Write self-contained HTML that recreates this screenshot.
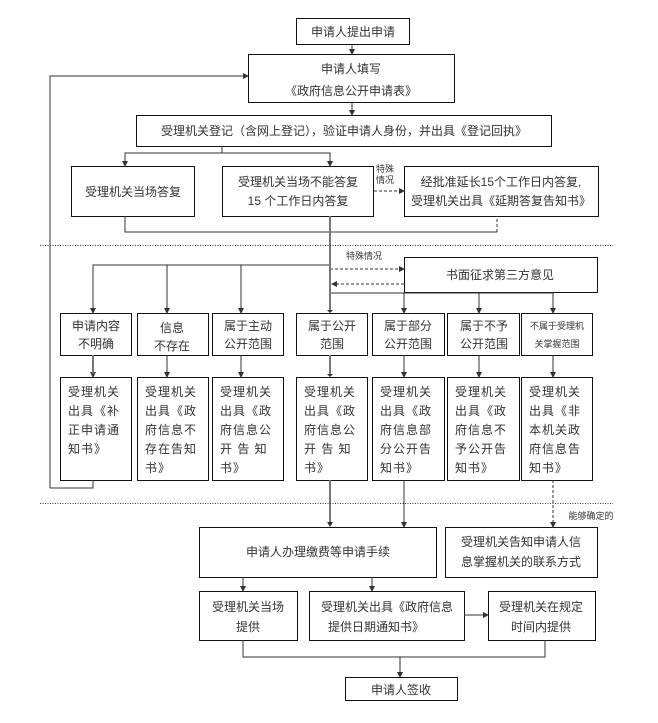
<!DOCTYPE html>
<html><head><meta charset="utf-8"><style>
body{margin:0;background:#fff}
svg{display:block}
text{font-family:"Liberation Sans","Noto Sans CJK SC",sans-serif;fill:#333;font-size:12px}
.s{font-size:9px}
</style></head><body>
<svg width="658" height="723" viewBox="0 0 658 723" xmlns="http://www.w3.org/2000/svg">
<defs><marker id="a" markerWidth="6" markerHeight="6" refX="5" refY="3" orient="auto"><path d="M0,0 L6,3 L0,6 z" fill="#333"/></marker></defs>
<g fill="none" stroke="#111" stroke-width="1">
<rect x="296.5" y="18.5" width="113" height="26"/>
<rect x="248.5" y="54.5" width="206" height="48"/>
<rect x="136.5" y="115.5" width="415" height="31"/>
<rect x="71.5" y="166.5" width="123" height="50"/>
<rect x="222.5" y="166.5" width="151" height="50"/>
<rect x="404.5" y="166.5" width="194" height="50"/>
<rect x="404.5" y="257.5" width="193" height="35"/>
<rect x="60.5" y="313.5" width="71" height="42"/><rect x="137.5" y="313.5" width="71" height="42"/><rect x="212.5" y="313.5" width="71" height="42"/><rect x="296.5" y="313.5" width="71" height="42"/><rect x="372.5" y="313.5" width="72" height="42"/><rect x="447.5" y="313.5" width="72" height="42"/><rect x="521.5" y="313.5" width="71" height="42"/>
<rect x="60.5" y="377.5" width="71" height="103"/><rect x="137.5" y="377.5" width="71" height="103"/><rect x="212.5" y="377.5" width="71" height="103"/><rect x="296.5" y="377.5" width="71" height="103"/><rect x="372.5" y="377.5" width="72" height="103"/><rect x="447.5" y="377.5" width="72" height="103"/><rect x="521.5" y="377.5" width="71" height="103"/>
<rect x="199.5" y="527.5" width="237" height="50"/>
<rect x="445.5" y="527.5" width="152" height="50"/>
<rect x="199.5" y="591.5" width="98" height="49"/>
<rect x="309.5" y="591.5" width="155" height="49"/>
<rect x="488.5" y="591.5" width="107" height="49"/>
<rect x="345.5" y="677.5" width="112" height="23"/>
</g>
<g fill="none" stroke="#333" stroke-width="1">
<line x1="352" y1="44" x2="352" y2="54" marker-end="url(#a)"/>
<line x1="352" y1="102" x2="352" y2="115" marker-end="url(#a)"/>
<polyline points="50,488 50,76 248,76" marker-end="url(#a)"/>
<polyline points="222,146 222,153"/>
<polyline points="125,166 125,153 330,153 330,166" marker-end="url(#a)"/>
<line x1="125" y1="153" x2="125" y2="166" marker-end="url(#a)"/>
<polyline points="125,216 125,232 497,232"/>
<line x1="497" y1="232" x2="497" y2="216" stroke-dasharray="3,2"/>
<line x1="374" y1="191" x2="404" y2="191" stroke-dasharray="3,2" marker-end="url(#a)"/>
<polyline points="93,313 93,265 330,265"/>
<line x1="167" y1="265" x2="167" y2="313" marker-end="url(#a)"/>
<line x1="241" y1="265" x2="241" y2="313" marker-end="url(#a)"/>
<line x1="93" y1="300" x2="93" y2="313" marker-end="url(#a)"/>
<line x1="330" y1="269" x2="404" y2="269" stroke-dasharray="3,2" marker-end="url(#a)"/>
<line x1="404" y1="284" x2="332" y2="284" stroke-dasharray="3,2" marker-end="url(#a)"/>
<polyline points="330,293 553,293 553,313" marker-end="url(#a)"/>
<line x1="404" y1="293" x2="404" y2="313" marker-end="url(#a)"/>
<line x1="479" y1="293" x2="479" y2="313" marker-end="url(#a)"/>
<line x1="93" y1="355" x2="93" y2="377" marker-end="url(#a)"/>
<line x1="167" y1="355" x2="167" y2="377" marker-end="url(#a)"/>
<line x1="241" y1="355" x2="241" y2="377" marker-end="url(#a)"/>
<line x1="404" y1="355" x2="404" y2="377" marker-end="url(#a)"/>
<line x1="479" y1="355" x2="479" y2="377" marker-end="url(#a)"/>
<line x1="553" y1="355" x2="553" y2="377" marker-end="url(#a)"/>
<polyline points="93,480 93,488 50,488"/>
<line x1="404" y1="480" x2="404" y2="527" marker-end="url(#a)"/>
<line x1="553" y1="480" x2="553" y2="527" stroke-dasharray="3,2" marker-end="url(#a)"/>
<line x1="243" y1="577" x2="243" y2="591" marker-end="url(#a)"/>
<line x1="372" y1="577" x2="372" y2="591" marker-end="url(#a)"/>
<line x1="464" y1="615" x2="488" y2="615" marker-end="url(#a)"/>
<polyline points="243,640 243,657 545,657 545,640"/>
<line x1="400" y1="657" x2="400" y2="677" marker-end="url(#a)"/>
</g>
<g stroke="#777" stroke-width="2" fill="none">
<line x1="330" y1="216" x2="330" y2="310"/>
<line x1="330" y1="355" x2="330" y2="374"/>
<line x1="330" y1="480" x2="330" y2="522"/>
<line x1="93" y1="355" x2="93" y2="374"/>
</g>
<g fill="#333"><path d="M327,310 L330,313 L333,310z"/><path d="M327,374 L330,377 L333,374z"/><path d="M327,522 L330,527 L333,522z"/></g>
<line x1="40" y1="245.5" x2="613" y2="245.5" stroke="#333" stroke-dasharray="1,1.5"/>
<line x1="40" y1="503.5" x2="613" y2="503.5" stroke="#333" stroke-dasharray="1,1.5"/>
<g text-anchor="middle">
<text x="353" y="36">申请人提出申请</text>
<text x="351" y="73">申请人填写</text>
<text x="351" y="95">《政府信息公开申请表》</text>
<text x="344" y="135">受理机关登记（含网上登记），验证申请人身份，并出具《登记回执》</text>
<text x="133" y="196">受理机关当场答复</text>
<text x="298" y="186">受理机关当场不能答复</text>
<text x="298" y="205">15 个工作日内答复</text>
<text x="501" y="186">经批准延长15个工作日内答复,</text>
<text x="501" y="205">受理机关出具《延期答复告知书》</text>
<text x="385" y="172" class="s">特殊</text><text x="385" y="183" class="s">情况</text>
<text x="364" y="259" class="s">特殊情况</text>
<text x="500" y="279">书面征求第三方意见</text>
<text x="96" y="330">申请内容</text><text x="96" y="348">不明确</text>
<text x="172" y="332">信息</text><text x="172" y="350">不存在</text>
<text x="248" y="330">属于主动</text><text x="248" y="348">公开范围</text>
<text x="332" y="330">属于公开</text><text x="332" y="348">范围</text>
<text x="408" y="330">属于部分</text><text x="408" y="348">公开范围</text>
<text x="484" y="330">属于不予</text><text x="484" y="348">公开范围</text>
<text x="557" y="329" class="s">不属于受理机</text><text x="557" y="347" class="s">关掌握范围</text>
<text x="591" y="519" class="s">能够确定的</text>
<text x="318" y="556">申请人办理缴费等申请手续</text>
<text x="521" y="546">受理机关告知申请人信</text><text x="521" y="566">息掌握机关的联系方式</text>
<text x="248" y="611">受理机关当场</text><text x="248" y="631">提供</text>
<text x="387" y="611">受理机关出具《政府信息</text><text x="376" y="631">提供日期通知书》</text>
<text x="541" y="611">受理机关在规定</text><text x="541" y="631">时间内提供</text>
<text x="401" y="694">申请人签收</text>
</g>
<g text-anchor="start" letter-spacing="1">
<text x="68" y="396">受理机关</text><text x="68" y="415">出具《补</text><text x="68" y="434">正申请通</text><text x="68" y="453">知书》</text>
<text x="145" y="396">受理机关</text><text x="145" y="415">出具《政</text><text x="145" y="434">府信息不</text><text x="145" y="453">存在告知</text><text x="145" y="472">书》</text>
<text x="220" y="396">受理机关</text><text x="220" y="415">出具《政</text><text x="220" y="434">府信息公</text><text x="220" y="453">开 告 知</text><text x="220" y="472">书》</text>
<text x="304" y="396">受理机关</text><text x="304" y="415">出具《政</text><text x="304" y="434">府信息公</text><text x="304" y="453">开 告 知</text><text x="304" y="472">书》</text>
<text x="380" y="396">受理机关</text><text x="380" y="415">出具《政</text><text x="380" y="434">府信息部</text><text x="380" y="453">分公开告</text><text x="380" y="472">知书》</text>
<text x="455" y="396">受理机关</text><text x="455" y="415">出具《政</text><text x="455" y="434">府信息不</text><text x="455" y="453">予公开告</text><text x="455" y="472">知书》</text>
<text x="529" y="396">受理机关</text><text x="529" y="415">出具《非</text><text x="529" y="434">本机关政</text><text x="529" y="453">府信息告</text><text x="529" y="472">知书》</text>
</g>
</svg>
</body></html>
